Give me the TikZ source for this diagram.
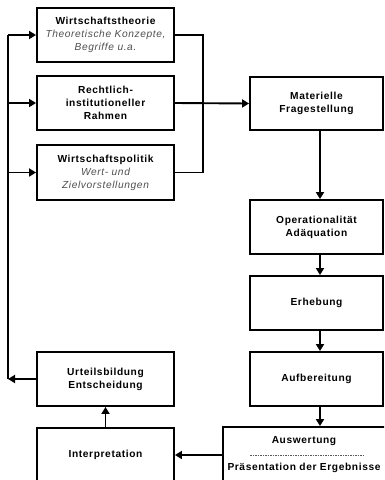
\documentclass[tikz,border=0pt]{standalone}
\usepackage{fontspec}
\setmainfont{Liberation Sans}[LetterSpace=6]
\usetikzlibrary{arrows.meta}
\definecolor{subgray}{HTML}{505050}
\begin{document}
\begin{tikzpicture}[x=1pt,y=-1pt,
  box/.style={draw=black, line width=1.9pt, fill=white, inner sep=0pt, align=center,
    font=\fontsize{10.2}{13}\selectfont\bfseries},
  lbox/.style={box, minimum width=137pt, minimum height=54pt},
  rbox/.style={box, minimum width=133pt, minimum height=54pt},
  txt/.style={font=\fontsize{10.2}{13}\selectfont\bfseries, inner sep=0pt},
  conn/.style={line width=1.9pt, -{Triangle[length=7pt,width=8pt]}},
  line/.style={line width=1.9pt},
  sep/.style={dashed, dash pattern=on 1.5pt off 1pt, line width=0.6pt, draw=black!65}
]
\useasboundingbox (0,0) rectangle (384,480);
\fill[white] (0,0) rectangle (384,480);
\clip (0,0) rectangle (384,480);

% left column
\node[lbox] (wt) at (105.5,35) {Wirtschaftstheorie\\{\mdseries\itshape\color{subgray}Theoretische Konzepte,}\\{\mdseries\itshape\color{subgray}Begriffe u.a.}};
\node[lbox] (rr) at (105.5,103) {Rechtlich-\\institutioneller\\Rahmen};
\node[lbox, minimum height=55pt] (wp) at (105.5,172.5) {Wirtschaftspolitik\\{\mdseries\itshape\color{subgray}Wert- und}\\{\mdseries\itshape\color{subgray}Zielvorstellungen}};
\node[lbox] (ur) at (105.5,379) {Urteilsbildung\\Entscheidung};
\node[lbox] (ip) at (105.5,455) {Interpretation};

% right column
\node[rbox, minimum height=53pt] (mf) at (316.5,103.5) {Materielle\\Fragestellung};
\node[rbox] (op) at (316.5,227) {Operationalität\\Adäquation};
\node[rbox] (er) at (316.5,303) {Erhebung};
\node[rbox] (ab) at (316.5,379) {Aufbereitung};
\node[box, minimum width=163pt, minimum height=56pt] (au) at (304.5,455) {};
\node[txt] (au1) at (304,441) {Auswertung};
\node[txt] (au2) at (304,468) {Präsentation der Ergebnisse};
\coordinate (d1) at (250,455);
\coordinate (d2) at (363,455);
\draw[sep] (d1) -- (d2);

% coordinates for connector routing
\coordinate (lb) at (8,379);
\coordinate (rb) at (203,0);
\coordinate (ax) at (320,0);

% left feedback loop
\draw[conn] (ur.west) -- (lb);
\draw[line] (lb) -- (lb |- wt.west);
\draw[conn] (lb |- wt.west) -- (wt.west);
\draw[conn] (lb |- rr.west) -- (rr.west);
\draw[conn] (lb |- wp.west) -- (wp.west);

% right bracket
\draw[line] (wt.east) -- (rb |- wt.east) -- (rb |- wp.east) -- (wp.east);
\draw[conn] (rr.east) -- (mf.west);

% right column arrows
\draw[conn] (ax |- mf.south) -- (ax |- op.north);
\draw[conn] (ax |- op.south) -- (ax |- er.north);
\draw[conn] (ax |- er.south) -- (ax |- ab.north);
\draw[conn] (ax |- ab.south) -- (ax |- au.north);

% bottom
\draw[conn] (au.west) -- (ip.east);
\draw[conn] (ip.north) -- (ur.south);
\end{tikzpicture}
\end{document}
